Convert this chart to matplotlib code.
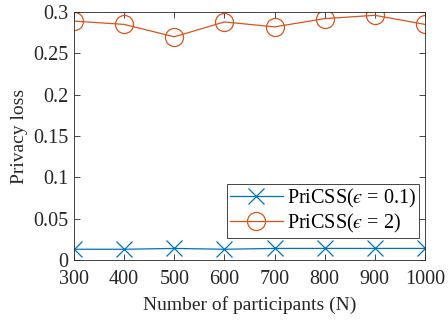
import matplotlib
matplotlib.use("Agg")
import matplotlib.pyplot as plt
from matplotlib.ticker import FuncFormatter

participants = [300, 400, 500, 600, 700, 800, 900, 1000]
loss_eps_01 = [0.013, 0.013, 0.014, 0.013, 0.014, 0.014, 0.014, 0.014]
loss_eps_2 = [0.289, 0.285, 0.270, 0.288, 0.282, 0.292, 0.296, 0.285]

plt.rcParams['font.family'] = 'Liberation Serif'
plt.rcParams['mathtext.fontset'] = 'stix'

fig = plt.figure(figsize=(4.48, 3.2), dpi=100)
ax = fig.add_axes([74 / 448, 60 / 320, 351 / 448, 248 / 320])

# lunate epsilon (U+03F5) as in the LaTeX \epsilon
ax.plot(participants, loss_eps_01, color='#0072BD', marker='x', markersize=11,
        markeredgewidth=0.9, linewidth=0.9, label='PriCSS($\u03f5$ = 0.1)')
ax.plot(participants, loss_eps_2, color='#D95319', marker='o', markersize=13,
        markerfacecolor='none', markeredgewidth=0.9, linewidth=0.9,
        label='PriCSS($\u03f5$ = 2)')

ax.set_xlim(300, 1000)
ax.set_ylim(0, 0.3)
ax.set_xticks(participants)
ax.set_yticks([0, 0.05, 0.1, 0.15, 0.2, 0.25, 0.3])
ax.yaxis.set_major_formatter(FuncFormatter(lambda v, _: f"{v:g}"))
ax.tick_params(direction='in', top=True, right=True, labelsize=14.5,
               length=4, width=0.6, colors='#262626')
ax.tick_params(axis='x', pad=7)
ax.tick_params(axis='y', pad=4)
for s in ax.spines.values():
    s.set_linewidth(0.6)
    s.set_color('#262626')

ax.set_xlabel('Number of participants (N)', fontsize=14, color='#262626',
              labelpad=5)
ax.set_ylabel('Privacy loss', fontsize=14, color='#262626', labelpad=4)

leg = ax.legend(loc='lower right', bbox_to_anchor=(1.0, 0.065), fontsize=14.5,
                fancybox=False, edgecolor='#262626', framealpha=1,
                borderpad=0.15, labelspacing=0.1, handlelength=2.6,
                handletextpad=0.2, borderaxespad=0.3)
leg.get_frame().set_linewidth(0.6)

fig.savefig('out.png', dpi=100)
